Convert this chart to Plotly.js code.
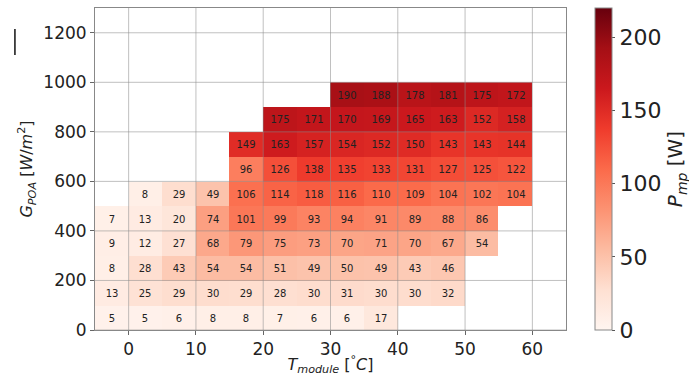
<!DOCTYPE html>
<html>
<head>
<meta charset="utf-8">
<script src="https://cdn.plot.ly/plotly-3.0.1.min.js"></script>
<style>
  html, body { margin: 0; padding: 0; background: #fff; }
  #chart { width: 689px; height: 376px; }
</style>
</head>
<body>
<div id="chart"></div>
<script>
// Module temperature bin centres (5 °C bins from -5 to 60 °C)
const tempBins = [-2.5, 2.5, 7.5, 12.5, 17.5, 22.5, 27.5, 32.5, 37.5, 42.5, 47.5, 52.5, 57.5];
// Plane-of-array irradiance bin centres (100 W/m² bins from 0 to 1000)
const irrBins = [50, 150, 250, 350, 450, 550, 650, 750, 850, 950];

// Mean maximum power per bin [W]; null = no data
const p0_100    = [5, 5, 6, 8, 8, 7, 6, 6, 17, null, null, null, null];
const p100_200  = [13, 25, 29, 30, 29, 28, 30, 31, 30, 30, 32, null, null];
const p200_300  = [8, 28, 43, 54, 54, 51, 49, 50, 49, 43, 46, null, null];
const p300_400  = [9, 12, 27, 68, 79, 75, 73, 70, 71, 70, 67, 54, null];
const p400_500  = [7, 13, 20, 74, 101, 99, 93, 94, 91, 89, 88, 86, null];
const p500_600  = [null, 8, 29, 49, 106, 114, 118, 116, 110, 109, 104, 102, 104];
const p600_700  = [null, null, null, null, 96, 126, 138, 135, 133, 131, 127, 125, 122];
const p700_800  = [null, null, null, null, 149, 163, 157, 154, 152, 150, 143, 143, 144];
const p800_900  = [null, null, null, null, null, 175, 171, 170, 169, 165, 163, 152, 158];
const p900_1000 = [null, null, null, null, null, null, null, 190, 188, 178, 181, 175, 172];

const powerGrid = [p0_100, p100_200, p200_300, p300_400, p400_500,
                   p500_600, p600_700, p700_800, p800_900, p900_1000];

const xTicks = [0, 10, 20, 30, 40, 50, 60];
const yTicks = [0, 200, 400, 600, 800, 1000, 1200];
const cbTicks = [0, 50, 100, 150, 200];

// matplotlib "Reds"
const reds = [
  [0.0, '#fff5f0'], [0.125, '#fee0d2'], [0.25, '#fcbba1'], [0.375, '#fc9272'],
  [0.5, '#fb6a4a'], [0.625, '#ef3b2c'], [0.75, '#cb181d'], [0.875, '#a50f15'],
  [1.0, '#67000d']
];

const font = 'DejaVu Sans, sans-serif';
const ink = '#222';

const trace = {
  type: 'heatmap',
  x: tempBins,
  y: irrBins,
  z: powerGrid,
  zmin: 0,
  zmax: 220,
  colorscale: reds,
  hoverongaps: false,
  texttemplate: '%{z}',
  textfont: { family: font, size: 10, color: ink },
  colorbar: {
    thickness: 17,
    len: 1,
    lenmode: 'fraction',
    y: 0.5,
    yanchor: 'middle',
    x: 1.0616,
    xanchor: 'left',
    xpad: 0,
    ypad: 0,
    outlinecolor: '#888',
    outlinewidth: 1,
    tickvals: cbTicks,
    ticks: 'outside',
    ticklen: 3,
    tickcolor: '#555',
    tickfont: { family: font, size: 22, color: ink },
    title: {
      text: '<i>P<sub>mp</sub></i> [W]',
      side: 'right',
      font: { family: font, size: 20, color: ink }
    }
  }
};

// grid lines drawn on top of the cells
const gridShapes = [];
xTicks.forEach(v => gridShapes.push({
  type: 'line', xref: 'x', yref: 'paper', x0: v, x1: v, y0: 0, y1: 1,
  layer: 'above', line: { color: 'rgba(140,140,140,0.55)', width: 1 }
}));
yTicks.forEach(v => gridShapes.push({
  type: 'line', xref: 'paper', yref: 'y', x0: 0, x1: 1, y0: v, y1: v,
  layer: 'above', line: { color: 'rgba(140,140,140,0.55)', width: 1 }
}));
// small vertical stroke at the upper left
gridShapes.push({
  type: 'line', xref: 'paper', yref: 'paper', x0: -0.17, x1: -0.17, y0: 0.935, y1: 0.854,
  line: { color: '#111', width: 1.5 }
});

const axisCommon = {
  showgrid: false,
  zeroline: false,
  showline: true,
  mirror: true,
  linecolor: '#888',
  linewidth: 1,
  ticks: 'outside',
  ticklen: 4,
  tickcolor: '#666',
  tickfont: { family: font, size: 17, color: ink }
};

const layout = {
  width: 689,
  height: 376,
  margin: { l: 95, r: 123, t: 8, b: 46, autoexpand: false },
  paper_bgcolor: '#fff',
  plot_bgcolor: '#fff',
  xaxis: Object.assign({}, axisCommon, {
    range: [-5, 65],
    tickvals: xTicks,
    title: { text: '<i>T<sub>module</sub></i> [<sup>°</sup><i>C</i>]', font: { family: font, size: 16, color: ink }, standoff: 4 }
  }),
  yaxis: Object.assign({}, axisCommon, {
    range: [0, 1300],
    tickvals: yTicks,
    title: { text: '<i>G<sub>POA</sub></i> [<i>W</i>/<i>m</i><sup>2</sup>]', font: { family: font, size: 16, color: ink }, standoff: 6 }
  }),
  shapes: gridShapes,
  showlegend: false
};

Plotly.newPlot('chart', [trace], layout, { displayModeBar: false, staticPlot: true });
</script>
</body>
</html>
